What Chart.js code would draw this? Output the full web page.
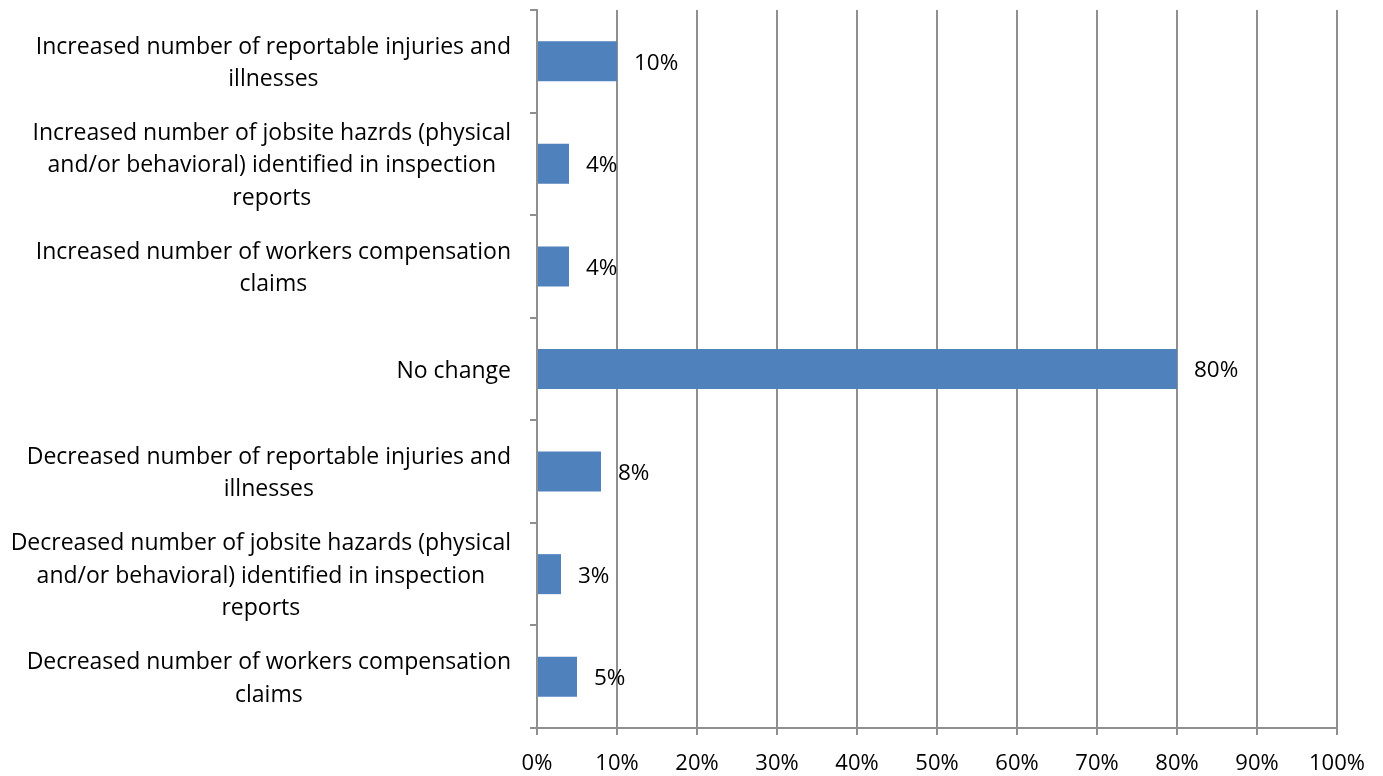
<!DOCTYPE html>
<html>
<head>
<meta charset="utf-8">
<script src="https://cdn.jsdelivr.net/npm/chart.js@4/dist/chart.umd.min.js"></script>
<style>
  html, body { margin: 0; padding: 0; background: #fff; }
  #wrap { width: 1383px; height: 776px; position: relative; }
  canvas { display: block; }
</style>
</head>
<body>
<div id="wrap"><canvas id="c" width="1383" height="776"></canvas></div>
<script>
// Outcome categories (each entry is one wrapped label, one line per string)
const categories = [
  ["Increased number of reportable injuries and", "illnesses"],
  ["Increased number of jobsite hazrds (physical", "and/or behavioral) identified in inspection", "reports"],
  ["Increased number of workers compensation", "claims"],
  ["No change"],
  ["Decreased number of reportable injuries and", "illnesses"],
  ["Decreased number of jobsite hazards (physical", "and/or behavioral) identified in inspection", "reports"],
  ["Decreased number of workers compensation", "claims"]
];
// Share of respondents, percent
const shares = [10, 4, 4, 80, 8, 3, 5];
// Percent axis ticks
const xTicks = [0, 10, 20, 30, 40, 50, 60, 70, 80, 90, 100];

const FONT = "'Open Sans', Lato, sans-serif";
const LABEL_SIZE = 23;
const VALUE_SIZE = 22.5;
const TICK_SIZE = 22;
const GRID = '#8f8f8f';

// Category labels: block right-aligned to the axis, lines centred within the block
const categoryLabels = {
  id: 'categoryLabels',
  afterDraw(chart) {
    const ctx = chart.ctx;
    const y = chart.scales.y;
    const rightEdge = chart.chartArea.left - 26;
    const lineH = 32.5;
    ctx.save();
    ctx.font = LABEL_SIZE + 'px ' + FONT;
    ctx.fillStyle = '#000';
    ctx.textAlign = 'center';
    ctx.textBaseline = 'middle';
    categories.forEach((lines, i) => {
      const cy = y.getPixelForValue(i) + 2;
      const w = Math.max(...lines.map(l => ctx.measureText(l).width));
      const cx = rightEdge - w / 2;
      const top = cy - (lines.length - 1) * lineH / 2;
      lines.forEach((l, k) => ctx.fillText(l, cx, top + k * lineH));
    });
    ctx.restore();
  }
};

// Value labels just past the end of each bar
const valueLabels = {
  id: 'valueLabels',
  afterDatasetsDraw(chart) {
    const ctx = chart.ctx;
    const meta = chart.getDatasetMeta(0);
    ctx.save();
    ctx.font = VALUE_SIZE + 'px ' + FONT;
    ctx.fillStyle = '#000';
    ctx.textAlign = 'left';
    ctx.textBaseline = 'middle';
    meta.data.forEach((bar, i) => {
      ctx.fillText(shares[i] + '%', bar.x + 17, bar.y + 2);
    });
    ctx.restore();
  }
};

new Chart(document.getElementById('c'), {
  type: 'bar',
  data: {
    labels: categories.map(l => l.join(' ')),
    datasets: [{
      data: shares,
      backgroundColor: '#4f81bd',
      borderWidth: 0,
      categoryPercentage: 0.39,
      barPercentage: 1.0
    }]
  },
  options: {
    indexAxis: 'y',
    responsive: false,
    animation: false,
    devicePixelRatio: 1,
    layout: { padding: { left: 0, right: 46, top: 10, bottom: 0 } },
    plugins: { legend: { display: false }, tooltip: { enabled: false } },
    scales: {
      x: {
        min: 0,
        max: 100,
        afterBuildTicks(scale) { scale.ticks = xTicks.map(v => ({ value: v })); },
        afterFit(scale) { scale.height = 48; },
        grid: { color: GRID, lineWidth: 2, tickLength: 7, drawTicks: true },
        border: { color: GRID, width: 2 },
        ticks: {
          color: '#000',
          padding: 16,
          font: { family: FONT, size: TICK_SIZE },
          callback: v => v + '%'
        }
      },
      y: {
        afterFit(scale) { scale.width = 537; },
        grid: { drawOnChartArea: false, color: GRID, lineWidth: 2, tickLength: 7, offset: true },
        border: { color: GRID, width: 2 },
        ticks: { display: false }
      }
    }
  },
  plugins: [categoryLabels, valueLabels]
});
</script>
</body>
</html>
